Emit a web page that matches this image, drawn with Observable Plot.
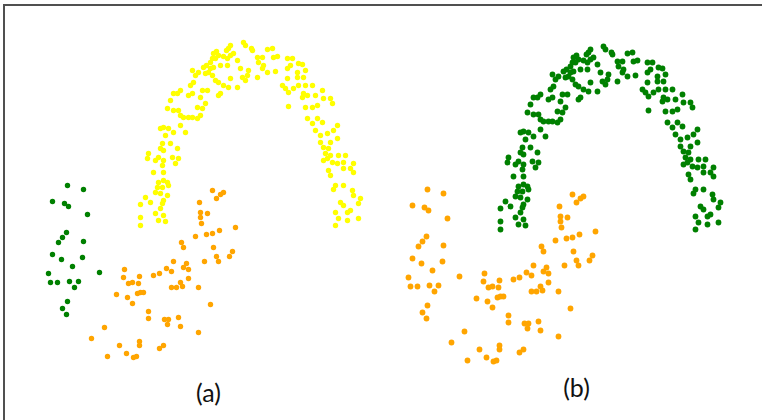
<!DOCTYPE html>
<html>
<head>
<meta charset="utf-8">
<script src="https://cdn.jsdelivr.net/npm/d3@7"></script>
<script src="https://cdn.jsdelivr.net/npm/@observablehq/plot@0.6"></script>
<style>
  body { margin: 0; background: #fff; }
  #wrap { position: relative; width: 762px; height: 420px; overflow: hidden; background: #fff; }
  #edge { position: absolute; left: 3px; top: 4px; right: -10px; bottom: -10px;
          border-top: 2px solid #505050; border-left: 2px solid #505050; pointer-events: none; }
</style>
</head>
<body>
<div id="wrap"></div>
<script>
// Point positions (panel-(a) pixel units; y grows downward)
const upperMoon = [
  [243,42],[245,45],[251,48],[252,50],[230,45],[228,48],[226,50],[216,51],[213,53],[212,58],
  [210,62],[215,58],[218,55],[223,56],[227,58],[230,55],[233,53],[237,60],[227,65],[220,65],
  [213,67],[210,68],[208,72],[206,65],[203,67],[205,73],[212,75],[215,80],[218,82],[223,85],
  [228,87],[230,78],[237,87],[240,68],[242,77],[247,75],[245,80],[248,70],[218,95],[220,93],
  [207,90],[202,90],[200,97],[195,75],[198,72],[192,70],[193,82],[190,85],[192,93],[188,95],
  [180,90],[177,93],[173,93],[170,100],[167,108],[173,110],[178,110],[180,115],[183,117],[188,117],
  [192,117],[197,118],[200,115],[202,108],[197,107],[205,103],[180,125],[185,132],[173,132],[168,128],
  [163,127],[160,128],[165,135],[162,143],[160,148],[163,150],[170,143],[177,148],[172,157],[178,158],
  [175,163],[163,160],[158,157],[148,153],[147,158],[155,160],[162,165],[153,172],[163,172],[163,180],
  [158,182],[167,182],[168,185],[162,187],[157,187],[155,192],[160,193],[167,195],[163,200],[162,203],
  [145,197],[140,204],[150,202],[160,208],[155,213],[163,215],[158,220],[165,221],[140,217],[140,225],
  [257,57],[262,57],[267,49],[272,48],[273,57],[277,56],[258,62],[263,65],[262,68],[257,77],
  [267,72],[275,71],[287,58],[292,58],[290,65],[287,68],[298,63],[302,64],[297,72],[305,70],
  [303,77],[297,77],[287,78],[282,85],[285,88],[288,92],[293,88],[298,85],[305,85],[312,85],
  [303,93],[302,97],[307,95],[315,95],[322,90],[323,98],[330,98],[332,103],[317,105],[312,107],
  [305,107],[288,106],[307,118],[312,123],[317,118],[322,122],[315,130],[320,135],[327,133],[333,130],
  [337,125],[337,138],[330,142],[320,142],[323,147],[328,148],[325,153],[323,160],[327,158],[330,155],
  [338,155],[345,155],[343,162],[332,162],[337,163],[343,168],[353,163],[350,168],[353,172],[328,170],
  [330,175],[335,185],[333,189],[343,185],[352,190],[353,195],[360,198],[340,202],[343,205],[350,210],
  [347,212],[335,212],[338,218],[347,220],[358,218],[335,225],[358,203]
];
const lowerMoon = [
  [212,190],[223,192],[220,194],[216,198],[199,202],[200,212],[207,213],[200,217],[201,223],[235,227],
  [219,230],[212,233],[206,234],[195,236],[181,242],[183,247],[213,247],[232,251],[229,256],[216,256],
  [218,261],[204,261],[186,263],[173,261],[166,268],[171,271],[188,269],[183,267],[124,269],[123,277],
  [139,276],[153,275],[159,273],[188,278],[180,282],[182,286],[171,287],[176,287],[198,287],[128,283],
  [132,282],[138,283],[140,292],[137,293],[143,292],[116,294],[127,297],[132,303],[210,304],[148,311],
  [148,318],[164,319],[168,319],[167,324],[178,317],[180,326],[198,332],[104,327],[91,338],[119,345],
  [139,341],[139,345],[163,345],[159,348],[107,356],[126,353],[133,357],[136,356]
];
const leftCluster = [
  [67,185],[83,189],[52,201],[64,203],[68,206],[87,214],[66,232],[62,237],[58,242],[83,241],
  [52,254],[61,259],[82,257],[72,266],[99,272],[48,273],[50,282],[57,282],[69,281],[78,281],
  [74,287],[67,301],[62,308],[66,314]
];

// Cluster colour given to each group in each panel
const panels = ["(a)", "(b)"];
const labelsA = {upper: "yellow", lower: "orange", left: "green"};
const labelsB = {upper: "green", lower: "orange", left: "orange"};
const colourNames = ["yellow", "orange", "green"];
const colourValues = ["#ffff00", "#ffa500", "#008000"];

const groups = [["upper", upperMoon], ["lower", lowerMoon], ["left", leftCluster]];
function rows(panel, labels) {
  return groups.flatMap(([g, pts]) => pts.map(([x, y]) => ({x, y, panel, cls: labels[g]})));
}
const rowsA = rows(panels[0], labelsA);
const rowsB = rows(panels[1], labelsB);

const labelStyle = {fontSize: 25, fontFamily: "Lato, sans-serif", fill: "#111"};

const chart = Plot.plot({
  width: 762,
  height: 420,
  marginLeft: 0,
  marginRight: 42,
  marginTop: 0,
  marginBottom: 0,
  fx: {domain: panels, padding: 0, axis: null},
  x: {domain: [0, 360], axis: null},
  y: {domain: [420, 0], axis: null},
  color: {domain: colourNames, range: colourValues},
  marks: [
    Plot.dot(rowsA, {fx: "panel", x: "x", y: "y", fill: "cls", r: 2.7, stroke: "none"}),
    Plot.dot(rowsB, {fx: "panel", x: "x", y: "y", fill: "cls", r: 2.9, stroke: "none", dy: 4}),
    Plot.text([panels[0]], {fx: d => d, text: d => d, frameAnchor: "bottom", dx: 28, dy: -19, ...labelStyle}),
    Plot.text([panels[1]], {fx: d => d, text: d => d, frameAnchor: "bottom", dx: 36, dy: -24, ...labelStyle})
  ]
});
const wrap = document.getElementById("wrap");
wrap.appendChild(chart);
const edge = document.createElement("div");
edge.id = "edge";
wrap.appendChild(edge);
</script>
</body>
</html>
